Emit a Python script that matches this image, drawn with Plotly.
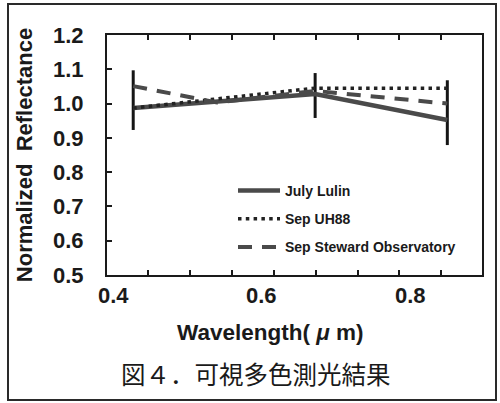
import plotly.graph_objects as go

# ---- data ----
wavelength = [0.427, 0.672, 0.850]
july_lulin = [0.987, 1.028, 0.952]
lulin_err_plus = [0.110, 0.061, 0.116]
lulin_err_minus = [0.064, 0.070, 0.073]

sep_uh88 = [0.987, 1.045, 1.045]

steward_wavelength = [0.427, 0.540, 0.672, 0.850]
sep_steward = [1.051, 1.003, 1.037, 1.000]

y_ticks = [0.5, 0.6, 0.7, 0.8, 0.9, 1.0, 1.1, 1.2]
x_ticks = [0.4, 0.6, 0.8]
x_tick_labels = ["0.4", "0.6", "0.8"]

FONT = "Liberation Sans"
INK = "#1a1a1a"
X_RANGE = [0.3917, 0.8967]

fig = go.Figure()

fig.add_trace(go.Scatter(
    x=wavelength, y=july_lulin, name="July Lulin", mode="lines",
    line=dict(color="#4a4a4a", width=4.5),
    error_y=dict(type="data", symmetric=False, array=lulin_err_plus,
                 arrayminus=lulin_err_minus, color="#151515",
                 thickness=3, width=0),
    legendgroup="a",
))
fig.add_trace(go.Scatter(
    x=wavelength, y=sep_uh88, name="Sep UH88", mode="lines",
    line=dict(color="#222222", width=3.5, dash="3.5px,4.3px"),
    legendgroup="b",
))
fig.add_trace(go.Scatter(
    x=steward_wavelength, y=sep_steward, name="Sep Steward Observatory",
    mode="lines",
    line=dict(color="#4a4a4a", width=4, dash="14px,10px"),
    legendgroup="c",
))

# plot area pixel geometry
L, R, T, B = 107, 18, 35, 128
W, H = 500, 403
pw, ph = W - L - R, H - T - B


def px_x(p):
    return (p - L) / pw


def px_y(p):
    return (H - B - p) / ph


annotations = [
    dict(text=lab, xref="x", yref="paper", x=v, y=px_y(295),
         xanchor="center", yanchor="middle", showarrow=False,
         font=dict(family=FONT, size=22, color=INK, weight="bold"))
    for v, lab in zip(x_ticks, x_tick_labels)
]
annotations += [
    dict(text="Wavelength( <i>μ</i> m)", xref="paper", yref="paper",
         x=px_x(270), y=px_y(332), xanchor="center", yanchor="middle",
         showarrow=False,
         font=dict(family=FONT, size=22.5, color=INK, weight="bold")),
    dict(text="図４．可視多色測光結果", xref="paper", yref="paper",
         x=px_x(256), y=px_y(373), xanchor="center", yanchor="middle",
         showarrow=False,
         font=dict(family="Noto Sans CJK JP", size=24.5, color=INK)),
]

fig.update_layout(
    width=W, height=H,
    margin=dict(l=L, r=R, t=T, b=B),
    paper_bgcolor="white", plot_bgcolor="white",
    font=dict(family=FONT, color=INK),
    showlegend=True,
    legend=dict(
        x=px_x(233), y=px_y(175), xanchor="left", yanchor="top",
        bgcolor="rgba(0,0,0,0)", borderwidth=0,
        font=dict(family=FONT, size=14, color=INK, weight="bold"),
        itemwidth=42, traceorder="grouped", tracegroupgap=7,
    ),
    xaxis=dict(
        range=X_RANGE, tickmode="linear", tick0=0.44691, dtick=0.05643,
        ticks="inside", ticklen=5, tickwidth=2, tickcolor=INK,
        showticklabels=False, showgrid=False, zeroline=False,
        showline=True, linecolor=INK, linewidth=2, mirror="ticks",
    ),
    yaxis=dict(
        range=[0.5, 1.2], tickvals=y_ticks, tickformat=".1f",
        ticks="inside", ticklen=5, tickwidth=2, tickcolor=INK,
        showgrid=False, zeroline=False,
        showline=True, linecolor=INK, linewidth=2, mirror=True,
        tickfont=dict(family=FONT, size=22, color=INK, weight="bold"),
        ticklabelstandoff=17,
        title=dict(text="Normalized  Reflectance", standoff=14,
                   font=dict(family=FONT, size=22, color=INK, weight="bold")),
    ),
    annotations=annotations,
    shapes=[
        dict(type="rect", xref="paper", yref="paper",
             x0=px_x(8), x1=px_x(496), y0=px_y(400), y1=px_y(4),
             line=dict(color="#2a2a2a", width=2), fillcolor="rgba(0,0,0,0)",
             layer="below"),
    ],
)

fig.write_html("out.html")
